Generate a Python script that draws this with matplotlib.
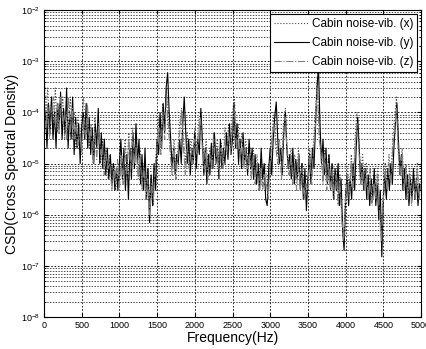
import numpy as np
import matplotlib
matplotlib.use("Agg")
import matplotlib.pyplot as plt
from matplotlib.ticker import LogLocator, NullFormatter, MultipleLocator

plt.rcParams['font.family'] = ['Liberation Sans', 'DejaVu Sans']

# Cross spectral density, cabin noise vs. vibration, read at 20 Hz steps (y) and 25 Hz steps (x, z)
freq_y = np.arange(0, 5001, 20)
freq_xz = np.arange(0, 5001, 25)

csd_y = [
    # 0 - 500 Hz
    5e-5, 1e-4, 2e-5, 1.5e-4, 4e-5, 2e-4, 3e-5, 1e-4, 2e-5, 1.5e-4, 5e-5, 2.5e-4, 3e-5,
    1.2e-4, 4e-5, 3e-4, 2e-5, 1e-4, 3e-5, 2e-4, 1.5e-5, 8e-5, 2e-5, 6e-5, 1e-5, 5e-5,
    # 520 - 1000 Hz
    1e-4, 3e-5, 1.5e-4, 2e-5, 8e-5, 1.5e-5, 5e-5, 1e-5, 6e-5, 2e-5, 1.2e-4, 1e-5, 4e-5,
    8e-6, 3e-5, 6e-6, 2e-5, 5e-6, 1.5e-5, 4e-6, 1e-5, 3e-6, 8e-6, 3e-6, 1e-5,
    # 1020 - 1500 Hz
    3e-5, 5e-6, 2e-5, 3e-6, 1.5e-5, 2e-6, 2e-5, 5e-6, 4e-5, 8e-6, 6e-5, 1e-5, 3e-5,
    4e-6, 1.5e-5, 3e-6, 2e-5, 2e-6, 8e-6, 7e-7, 6e-6, 1.5e-6, 1e-5, 3e-6, 3e-5,
    # 1520 - 2000 Hz
    1.5e-5, 1e-4, 2e-5, 1.5e-4, 4e-5, 3e-4, 6e-4, 1e-4, 3e-5, 8e-6, 2e-5, 6e-6, 1.5e-5,
    1e-5, 3e-5, 1e-5, 6e-5, 2e-4, 4e-5, 1e-5, 3e-5, 6e-6, 2e-5, 1e-5, 4e-5,
    # 2020 - 2500 Hz
    8e-6, 3e-5, 1.5e-5, 1.2e-4, 3e-5, 6e-6, 2e-5, 4e-6, 1.5e-5, 6e-6, 2.5e-5, 8e-6, 4e-5,
    1e-5, 2e-5, 5e-6, 3e-5, 8e-6, 2e-5, 1e-5, 4e-5, 1.2e-5, 6e-5, 1.5e-5, 3e-5,
    # 2520 - 3000 Hz
    1.5e-4, 2e-5, 6e-5, 1e-5, 3e-5, 8e-6, 4e-5, 1e-5, 2e-5, 6e-6, 3e-5, 8e-6, 2e-5,
    5e-6, 1.5e-5, 4e-6, 1e-5, 3e-6, 2e-5, 5e-6, 1e-5, 2e-6, 1.5e-6, 8e-6, 2e-5,
    # 3020 - 3500 Hz
    6e-6, 3e-5, 8e-5, 1.6e-4, 3e-5, 1e-5, 2e-5, 6e-6, 4e-5, 1e-4, 2e-5, 8e-6, 1.5e-5,
    5e-6, 2e-5, 4e-6, 1.2e-5, 5e-6, 1.5e-5, 3e-6, 1e-5, 2e-6, 8e-6, 1.2e-6, 5e-6,
    # 3520 - 4000 Hz
    1.5e-5, 4e-6, 2e-5, 8e-6, 5e-5, 3e-4, 8e-4, 6e-5, 1e-5, 3e-5, 6e-6, 2e-5, 4e-6,
    1.5e-5, 3e-6, 1e-5, 2e-6, 8e-6, 3e-6, 1e-5, 1.5e-6, 5e-6, 5e-7, 2e-7, 2e-6,
    # 4020 - 4500 Hz
    6e-6, 1.5e-6, 5e-6, 2e-6, 1e-5, 3e-6, 2e-5, 8e-5, 2e-5, 4e-6, 1e-5, 3e-6, 8e-6,
    2e-6, 6e-6, 1.5e-6, 5e-6, 2e-6, 8e-6, 1.5e-6, 4e-6, 8e-7, 3e-6, 1.5e-7, 2e-6,
    # 4520 - 5000 Hz
    6e-6, 2e-6, 8e-6, 3e-6, 1e-5, 4e-6, 2e-5, 6e-5, 1.5e-4, 3e-5, 6e-6, 1.5e-5, 3e-6,
    8e-6, 2e-6, 6e-6, 1.5e-6, 5e-6, 2e-6, 8e-6, 2e-6, 5e-6, 1.5e-6, 4e-6, 3e-6,
]

csd_x = [
    8e-4, 1e-4, 3e-4, 5e-5, 2e-4, 6e-5, 3e-4, 4e-5, 1.5e-4, 8e-5, 2e-4, 3e-5, 1.2e-4, 5e-5,
    2e-4, 3e-5, 1e-4, 2e-5, 8e-5, 3e-5, 6e-5,
    2e-4, 4e-5, 1e-4, 2e-5, 6e-5, 1.5e-5, 8e-5, 2e-5, 4e-5, 1e-5, 3e-5, 8e-6, 2e-5, 5e-6,
    1.5e-5, 4e-6, 1e-5, 3e-6, 8e-6, 5e-6,
    2e-5, 6e-6, 3e-5, 8e-6, 4e-5, 1e-5, 5e-5, 1.5e-5, 3e-5, 6e-6, 2e-5, 4e-6, 1e-5, 3e-6,
    8e-6, 2e-6, 6e-6, 1.5e-6, 1e-5, 3e-5,
    8e-5, 2e-5, 1.5e-4, 5e-5, 3e-4, 8e-5, 2e-5, 1e-5, 3e-5, 8e-6, 2e-5, 6e-5, 1.2e-4, 3e-5,
    1e-5, 4e-5, 1e-5, 3e-5, 1.5e-5, 5e-5,
    2e-5, 6e-5, 1e-4, 3e-5, 1e-5, 3e-5, 8e-6, 2e-5, 1e-5, 4e-5, 1.5e-5, 3e-5, 8e-6, 2.5e-5,
    1e-5, 5e-5, 2e-5, 6e-5, 2e-5, 1e-4,
    2e-4, 3e-5, 6e-5, 2e-5, 4e-5, 1e-5, 3e-5, 1.2e-5, 2.5e-5, 8e-6, 2e-5, 6e-6, 1.5e-5, 5e-6,
    1.2e-5, 4e-6, 1e-5, 6e-6, 3e-6, 1.5e-5,
    4e-5, 1e-4, 3e-5, 1.5e-5, 3e-5, 8e-6, 6e-5, 1.2e-4, 2e-5, 1e-5, 2e-5, 6e-6, 1.5e-5, 5e-6,
    2e-5, 4e-6, 1e-5, 3e-6, 6e-6, 4e-6,
    2e-5, 6e-6, 3e-5, 1e-4, 5e-4, 4e-5, 2e-5, 6e-6, 2e-5, 5e-6, 1.5e-5, 4e-6, 1e-5, 3e-6,
    8e-6, 2e-6, 6e-6, 1e-6, 4e-7, 3e-6,
    8e-6, 3e-6, 1.5e-5, 4e-6, 3e-5, 1e-4, 3e-5, 6e-6, 1.5e-5, 4e-6, 1e-5, 3e-6, 8e-6, 2e-6,
    6e-6, 3e-6, 8e-6, 1.5e-6, 4e-7, 3e-6,
    1e-5, 4e-6, 1.5e-5, 5e-6, 3e-5, 8e-5, 2e-4, 2e-5, 8e-6, 2e-5, 4e-6, 1e-5, 3e-6, 8e-6,
    2e-6, 6e-6, 3e-6, 1e-5, 3e-6, 6e-6,
]

csd_z = [
    2e-4, 5e-5, 1.5e-4, 3e-5, 1e-4, 2e-4, 5e-5, 1.5e-4, 4e-5, 2e-4, 6e-5, 1e-4, 3e-5, 2e-4,
    4e-5, 1.2e-4, 3e-5, 6e-5, 2e-5, 5e-5, 1.5e-5,
    8e-5, 3e-5, 1.5e-4, 3e-5, 5e-5, 1e-5, 4e-5, 1.2e-5, 6e-5, 1.5e-5, 2e-5, 6e-6, 1.5e-5, 8e-6,
    1e-5, 3e-6, 8e-6, 4e-6, 1.2e-5, 3e-6,
    1.5e-5, 4e-6, 2e-5, 6e-6, 3e-5, 8e-6, 4e-5, 1e-5, 2e-5, 5e-6, 1.5e-5, 3e-6, 8e-6, 2e-6,
    5e-6, 1e-6, 4e-6, 2e-6, 8e-6, 2e-5,
    5e-5, 1.5e-5, 1e-4, 3e-5, 2e-4, 5e-5, 1.5e-5, 6e-6, 2e-5, 5e-6, 1.5e-5, 4e-5, 1e-4, 2e-5,
    6e-6, 2.5e-5, 8e-6, 2e-5, 1e-5, 3e-5,
    1.5e-5, 4e-5, 8e-5, 2e-5, 8e-6, 2e-5, 5e-6, 1.5e-5, 8e-6, 3e-5, 1e-5, 2e-5, 6e-6, 2e-5,
    8e-6, 3e-5, 1.5e-5, 4e-5, 1.5e-5, 6e-5,
    1.2e-4, 2e-5, 4e-5, 1.5e-5, 3e-5, 8e-6, 2e-5, 8e-6, 1.5e-5, 5e-6, 1.5e-5, 4e-6, 1e-5, 3e-6,
    8e-6, 3e-6, 6e-6, 4e-6, 2e-6, 1e-5,
    3e-5, 6e-5, 2e-5, 1e-5, 2e-5, 5e-6, 4e-5, 8e-5, 1.5e-5, 6e-6, 1.5e-5, 4e-6, 1e-5, 3e-6,
    1.5e-5, 3e-6, 8e-6, 2e-6, 4e-6, 3e-6,
    1.5e-5, 4e-6, 2e-5, 6e-5, 3e-4, 3e-5, 1.5e-5, 4e-6, 1.5e-5, 3e-6, 1e-5, 3e-6, 8e-6, 2e-6,
    6e-6, 1.5e-6, 4e-6, 8e-7, 3e-7, 2e-6,
    6e-6, 2e-6, 1e-5, 3e-6, 2e-5, 6e-5, 2e-5, 4e-6, 1e-5, 3e-6, 8e-6, 2e-6, 6e-6, 1.5e-6,
    4e-6, 2e-6, 6e-6, 1e-6, 3e-7, 2e-6,
    8e-6, 3e-6, 1e-5, 4e-6, 2e-5, 5e-5, 1.2e-4, 1.5e-5, 6e-6, 1.5e-5, 3e-6, 8e-6, 2e-6, 6e-6,
    1.5e-6, 4e-6, 2e-6, 8e-6, 2e-6, 4e-6,
]

labels = ['Cabin noise-vib. (x)', 'Cabin noise-vib. (y)', 'Cabin noise-vib. (z)']

fig = plt.figure(figsize=(4.27, 3.49), dpi=100)
ax = fig.add_axes([0.103, 0.092, 0.883, 0.879])

ax.semilogy(freq_xz, csd_x, ls=':', color='0.3', lw=0.8, label=labels[0])
ax.semilogy(freq_y, csd_y, ls='-', color='k', lw=0.8, label=labels[1])
ax.semilogy(freq_xz, csd_z, ls='-.', color='0.5', lw=0.8, label=labels[2])

ax.set_xlim(0, 5000)
ax.set_ylim(1e-8, 1e-2)
ax.xaxis.set_major_locator(MultipleLocator(500))
ax.yaxis.set_major_locator(LogLocator(base=10, numticks=10))
ax.yaxis.set_minor_locator(LogLocator(base=10, subs=np.arange(2, 10), numticks=10))
ax.yaxis.set_minor_formatter(NullFormatter())

# dotted grid on decades, minor decades and every 500 Hz
ax.grid(True, which='major', ls=(0, (2, 2)), color='k', lw=0.6)
ax.grid(True, which='minor', axis='y', ls=(0, (2, 2)), color='k', lw=0.5)

ax.tick_params(which='both', direction='in', top=True, right=True, labelsize=6.5, pad=3)
ax.tick_params(which='major', length=3)
ax.tick_params(which='minor', length=1.5)
for sp in ax.spines.values():
    sp.set_linewidth(0.8)

ax.set_xlabel('Frequency(Hz)', fontsize=10, labelpad=1)
ax.set_ylabel('CSD(Cross Spectral Density)', fontsize=10, labelpad=1)

leg = ax.legend(loc='upper right', fontsize=8.5, frameon=True, fancybox=False,
                edgecolor='k', framealpha=1, borderaxespad=0.3, handlelength=3.0,
                handletextpad=0.2, labelspacing=0.6, borderpad=0.35)
leg.get_frame().set_linewidth(0.8)

fig.savefig('out.png', dpi=100)
